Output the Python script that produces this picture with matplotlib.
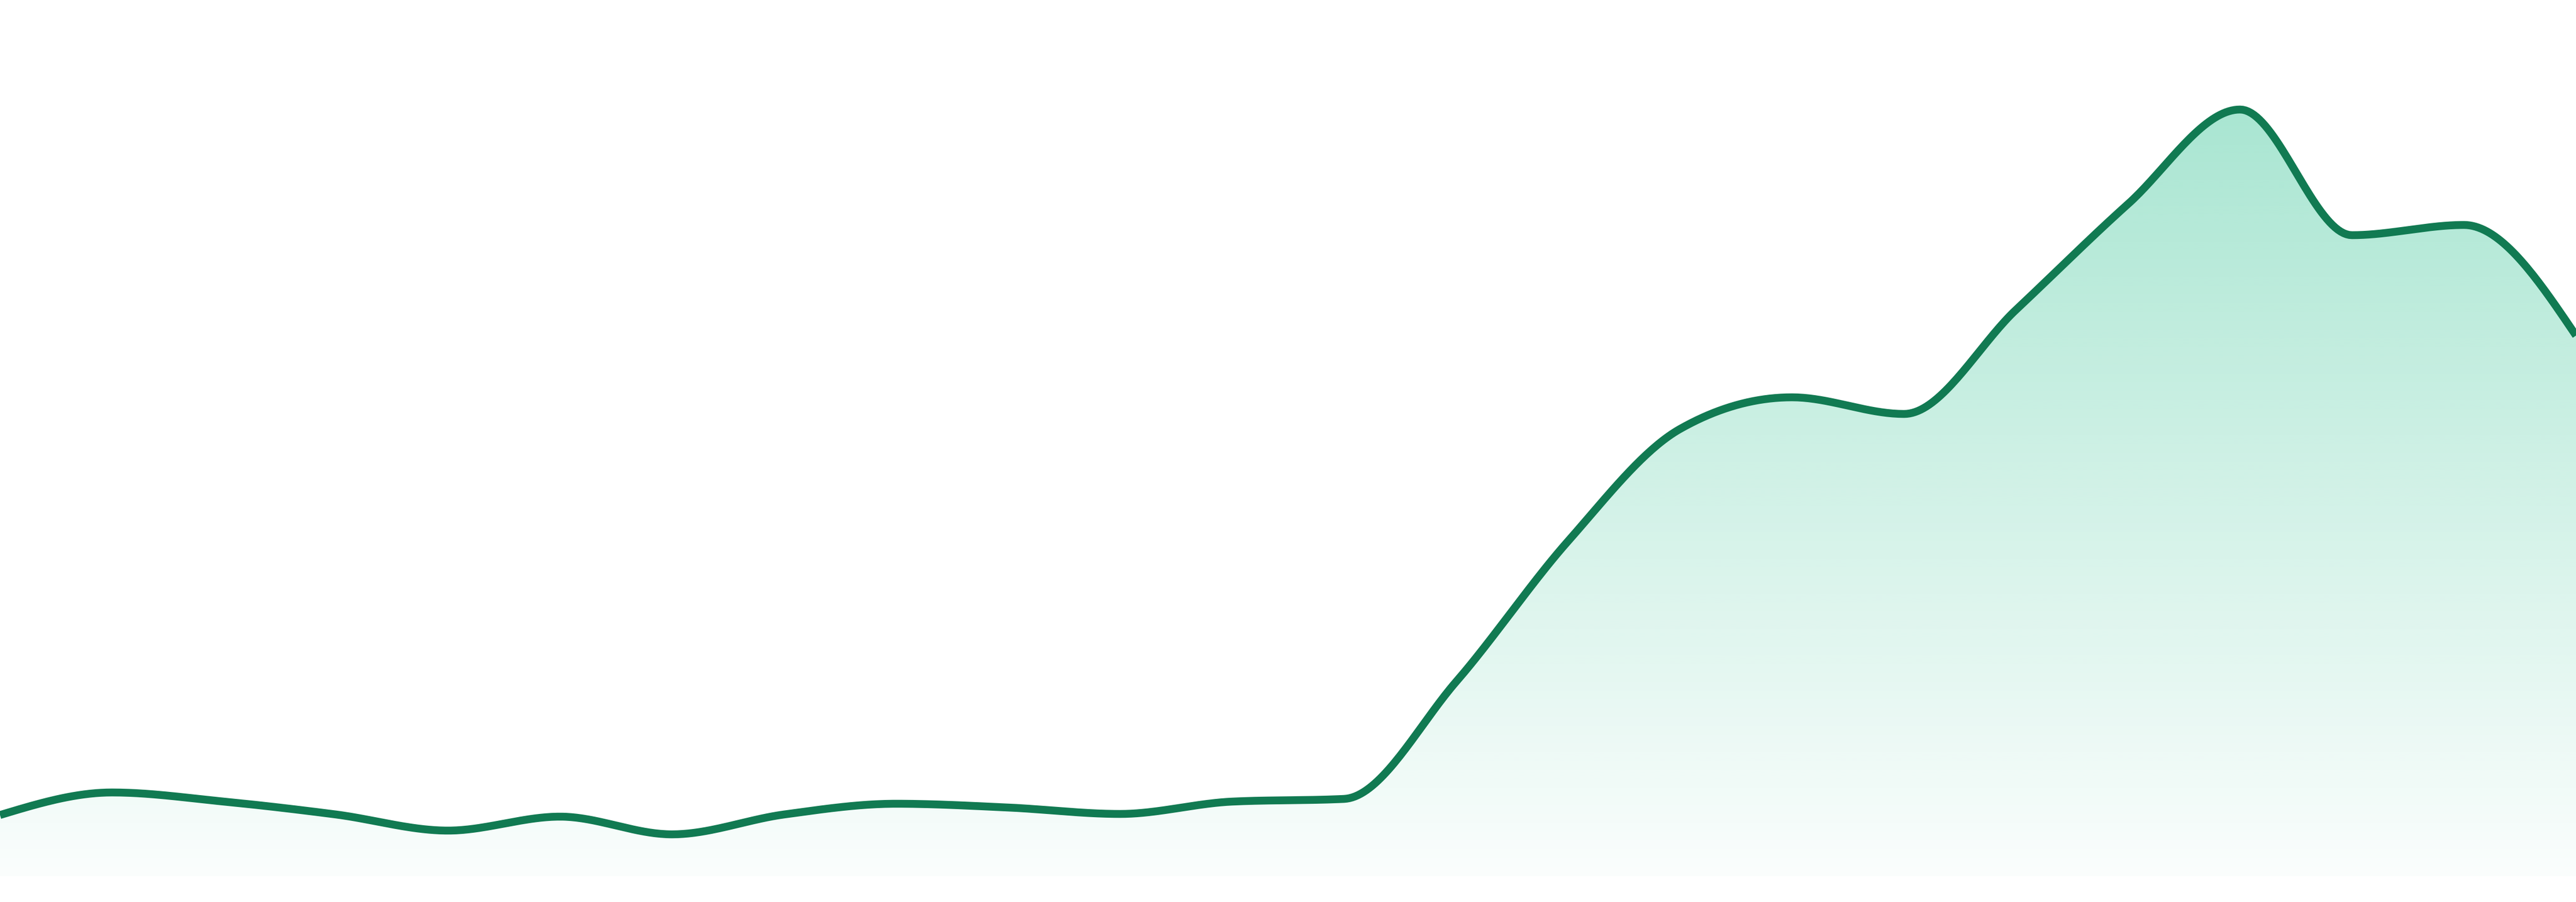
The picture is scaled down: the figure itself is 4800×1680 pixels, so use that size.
import numpy as np
import matplotlib
matplotlib.use("Agg")
import matplotlib.pyplot as plt
from matplotlib.colors import to_rgb

# ---- data (24 evenly spaced observations) ----
idx = list(range(24))
values = [11.4, 15.6, 13.9, 11.5, 8.5, 11.1, 7.8, 11.5, 13.5, 12.8, 11.6, 13.9,
          14.4, 36.2, 62.4, 83.3, 89.2, 86.1, 105.5, 125.2, 142.8, 119.4, 121.3, 100.7]

line_color = "#117a52"
fill_color = "#10b981"


def monotone_x(x, y, n=40):
    """Monotone cubic (Steffen, as d3.curveMonotoneX) interpolation."""
    x = np.asarray(x, float)
    y = np.asarray(y, float)
    h = np.diff(x)
    s = np.diff(y) / h
    m = np.zeros_like(y)
    for i in range(1, len(y) - 1):
        s0, s1 = s[i - 1], s[i]
        p = (s0 * h[i] + s1 * h[i - 1]) / (h[i - 1] + h[i])
        m[i] = (np.sign(s0) + np.sign(s1)) * min(abs(s0), abs(s1), 0.5 * abs(p))
    m[0] = (3 * s[0] - m[1]) / 2
    m[-1] = (3 * s[-1] - m[-2]) / 2
    xs, ys = [], []
    for i in range(len(y) - 1):
        t = np.linspace(0, 1, n, endpoint=(i == len(y) - 2))
        h00 = 2 * t**3 - 3 * t**2 + 1
        h10 = t**3 - 2 * t**2 + t
        h01 = -2 * t**3 + 3 * t**2
        h11 = t**3 - t**2
        xs.append(x[i] + t * h[i])
        ys.append(h00 * y[i] + h10 * h[i] * m[i] + h01 * y[i + 1] + h11 * h[i] * m[i + 1])
    return np.concatenate(xs), np.concatenate(ys)


xs, ys = monotone_x(idx, values)

fig = plt.figure(figsize=(16, 5.6), dpi=300)
ax = fig.add_axes([0, 0, 1, 1])
ax.set_xlim(idx[0], idx[-1])
ax.set_ylim(-4.8, 163.2)
ax.axis("off")

# gradient fill under the curve
poly = ax.fill_between(xs, ys, 0, color="none", linewidth=0)
top = max(values)
grad_h = 256
alpha = np.linspace(0.36, 0.02, grad_h)[:, None]
rgb = np.array(to_rgb(fill_color))
img = np.zeros((grad_h, 2, 4))
img[..., :3] = rgb
img[..., 3] = alpha
im = ax.imshow(img, extent=(idx[0], idx[-1], 0, top), origin="upper",
               aspect="auto", interpolation="bilinear", zorder=1)
path = poly.get_paths()[0]
im.set_clip_path(path, transform=ax.transData)

ax.plot(xs, ys, color=line_color, linewidth=3.5, solid_joinstyle="round",
        solid_capstyle="butt", zorder=3)

fig.savefig("out.png", dpi=300, facecolor="white")
